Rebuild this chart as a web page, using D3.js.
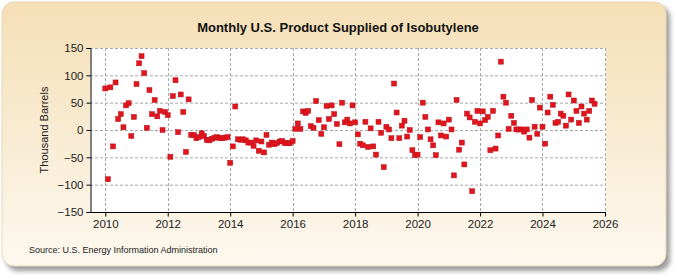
<!DOCTYPE html>
<html>
<head>
  <meta charset="utf-8">
  <title>Monthly U.S. Product Supplied of Isobutylene</title>
  <style>
    body { margin: 0; background: #fff; }
    svg { display: block; }
  </style>
</head>
<body>
  <svg width="675" height="275"></svg>
  <script src="https://cdn.jsdelivr.net/npm/d3@7"></script>
  <script>
  // data: thousand barrels per month, starting Jan 2010
  var startYear = 2010;
  var values2010_2012 = [76, -90, 78, -30, 87, 20, 29, 5, 45, 49, -11, 24,
                         84, 122, 135, 104, 4, 73, 29, 55, 25, 35, 0, 33,
                         27, -49, 62, 91, -4, 65, 33, -40, 56, -9, -9, -15];
  var values2013_2015 = [-13, -6, -11, -18, -19, -16, -14, -13, -15, -15, -14, -13,
                         -60, -30, 43, -17, -18, -17, -19, -23, -23, -29, -19, -38,
                         -21, -41, -9, -27, -23, -26, -24, -21, -20, -24, -24, -24];
  var values2016_2018 = [-20, 2, 12, 2, 34, 31, 35, 7, 4, 53, 18, -7,
                         5, 44, 20, 45, 29, 11, -26, 50, 14, 19, 12, 45,
                         14, -8, -25, -28, 15, -31, 3, -30, -45, 15, -5, -68];
  var values2019_2021 = [6, 1, -15, 85, 32, -15, 8, 17, -12, 0, -37, -46,
                         -45, -13, 50, 24, 1, -17, -28, -46, 14, -10, 12, -12,
                         19, 1, -83, 55, -36, -23, -63, 30, 23, -112, 15, 35];
  var values2022_2025 = [12, 34, 18, 24, -37, 35, -34, -10, 125, 61, 50, 2,
                         26, 13, 1, 1, 1, -3, 1, -14, 55, 6, -7, 41,
                         6, -25, 32, 61, 46, 13, 15, 30, 26, 8, 65, 19,
                         54, 35, 13, 43, 30, 19, 35, 54, 48];
  var yTicks = [-150, -100, -50, 0, 50, 100, 150];
  var xTickYears = [2010, 2012, 2014, 2016, 2018, 2020, 2022, 2024, 2026];

  var allValues = values2010_2012.concat(values2013_2015, values2016_2018,
                                         values2019_2021, values2022_2025);
  var data = allValues.map(function(v, i) {
    return { date: new Date(startYear, i, 1), value: v };
  });

  var svg = d3.select("svg");
  var W = 675, H = 275;
  var m = { left: 90, right: 606, top: 48, bottom: 212 };

  // background panel
  var defs = svg.append("defs");
  var grad = defs.append("linearGradient")
    .attr("id", "bg").attr("x1", 0).attr("y1", 0).attr("x2", 0).attr("y2", 1);
  grad.append("stop").attr("offset", "0%").attr("stop-color", "#f5dfb6");
  grad.append("stop").attr("offset", "100%").attr("stop-color", "#fdf8ef");
  var blur = defs.append("filter").attr("id", "shadow")
    .attr("x", "-5%").attr("y", "-5%").attr("width", "115%").attr("height", "120%");
  blur.append("feGaussianBlur").attr("stdDeviation", 2.5);

  svg.append("rect")
    .attr("x", 6).attr("y", 6).attr("width", W - 11).attr("height", H - 10)
    .attr("rx", 12).attr("fill", "#9a9a9a").attr("filter", "url(#shadow)");
  svg.append("rect")
    .attr("x", 2).attr("y", 2).attr("width", W - 11).attr("height", H - 11)
    .attr("rx", 12).attr("fill", "url(#bg)")
    .attr("stroke", "#e8d8b8").attr("stroke-width", 1);

  // plot area
  svg.append("rect")
    .attr("x", m.left).attr("y", m.top)
    .attr("width", m.right - m.left).attr("height", m.bottom - m.top)
    .attr("fill", "#fff");

  var x = d3.scaleTime()
    .domain([new Date(2010, 0, 1), new Date(2026, 0, 1)])
    .range([105.3, 605]);
  var y = d3.scaleLinear()
    .domain([-150, 150])
    .range([m.bottom, m.top]);

  // grid
  svg.append("g").selectAll("line")
    .data(yTicks.filter(function(d) { return d > -150; }))
    .enter().append("line")
    .attr("x1", m.left).attr("x2", m.right)
    .attr("y1", function(d) { return y(d) + 0.5; })
    .attr("y2", function(d) { return y(d) + 0.5; })
    .attr("stroke", "#a8a8a8").attr("stroke-dasharray", "3,2");
  svg.append("g").selectAll("line")
    .data(xTickYears)
    .enter().append("line")
    .attr("x1", function(d) { return Math.round(x(new Date(d, 0, 1))) + 0.5; })
    .attr("x2", function(d) { return Math.round(x(new Date(d, 0, 1))) + 0.5; })
    .attr("y1", m.top).attr("y2", m.bottom)
    .attr("stroke", "#a8a8a8").attr("stroke-dasharray", "3,2");

  // axes
  var yAxis = d3.axisLeft(y).tickValues(yTicks).tickSize(4).tickPadding(3);
  svg.append("g")
    .attr("transform", "translate(" + (m.left + 0.5) + ",0)")
    .call(yAxis)
    .call(function(g) {
      g.select(".domain").attr("stroke", "#000");
      g.selectAll("text").attr("font-family", "Liberation Sans, Arial, sans-serif")
        .attr("font-size", 11.5).attr("fill", "#222");
    });

  var xAxis = d3.axisBottom(x)
    .tickValues(xTickYears.map(function(d) { return new Date(d, 0, 1); }))
    .tickFormat(d3.timeFormat("%Y"))
    .tickSize(4).tickPadding(3).tickSizeOuter(0);
  svg.append("g")
    .attr("transform", "translate(0," + (m.bottom + 0.5) + ")")
    .call(xAxis)
    .call(function(g) {
      g.select(".domain").attr("d", "M" + m.left + ",0H" + m.right).attr("stroke", "#000");
      g.selectAll("text").attr("font-family", "Liberation Sans, Arial, sans-serif")
        .attr("font-size", 11.5).attr("fill", "#222");
    });

  // points
  svg.append("g").selectAll("rect")
    .data(data)
    .enter().append("rect")
    .attr("x", function(d) { return x(d.date) - 2.5; })
    .attr("y", function(d) { return y(d.value) - 2.5; })
    .attr("width", 5).attr("height", 5)
    .attr("fill", "#e2141c")
    .attr("stroke", "#b8101a").attr("stroke-width", 0.5);

  // text
  svg.append("text")
    .attr("x", 338).attr("y", 32)
    .attr("text-anchor", "middle")
    .attr("font-family", "Liberation Sans, Arial, sans-serif")
    .attr("font-weight", "bold").attr("font-size", 13)
    .attr("fill", "#111")
    .text("Monthly U.S. Product Supplied of Isobutylene");

  svg.append("text")
    .attr("transform", "translate(48," + y(0) + ") rotate(-90)")
    .attr("text-anchor", "middle")
    .attr("font-family", "Liberation Sans, Arial, sans-serif")
    .attr("font-size", 11).attr("fill", "#222")
    .text("Thousand Barrels");

  svg.append("text")
    .attr("x", 29).attr("y", 253)
    .attr("font-family", "Liberation Sans, Arial, sans-serif")
    .attr("font-size", 9).attr("fill", "#222")
    .text("Source: U.S. Energy Information Administration");
  </script>
</body>
</html>
